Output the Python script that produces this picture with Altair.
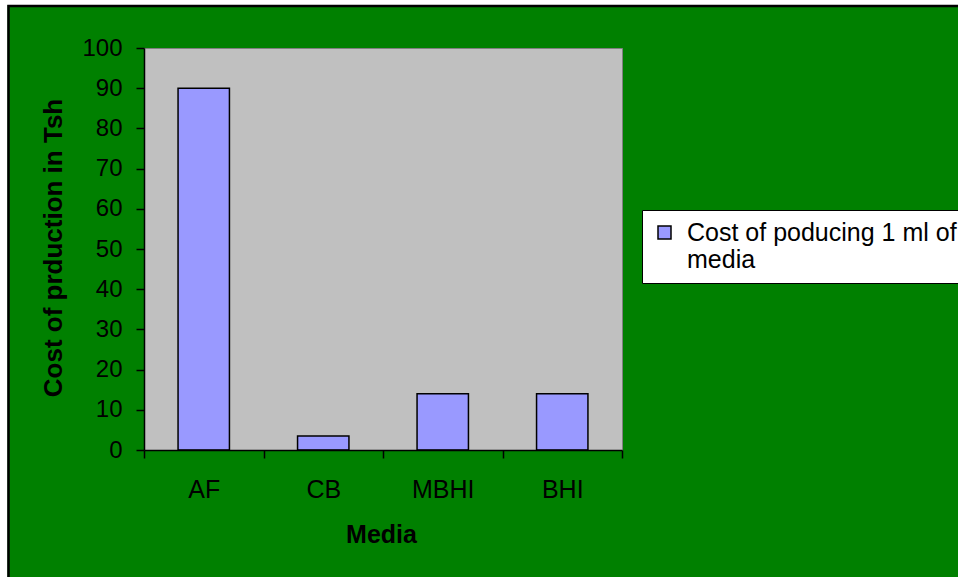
import altair as alt
import pandas as pd

categories = ["AF", "CB", "MBHI", "BHI"]
costs = [90, 3.5, 14, 14]
series_name = "Cost of poducing 1 ml of media"

df = pd.DataFrame({"Media": categories, "Cost": costs, "series": [series_name] * len(categories)})

FONT = "Liberation Sans"
W, H = 478, 402

one = alt.Data(values=[{"k": 1}])

# white margins outside the chart border (left and top), and the black border
white_left = alt.Chart(one).mark_rect(fill="white").encode(
    x=alt.value(-150), x2=alt.value(-136.5), y=alt.value(-60), y2=alt.value(1200)
)
white_top = alt.Chart(one).mark_rect(fill="white").encode(
    x=alt.value(-150), x2=alt.value(1200), y=alt.value(-60), y2=alt.value(-43)
)
border = alt.Chart(one).mark_rect(fill="transparent", stroke="black", strokeWidth=2.5).encode(
    x=alt.value(-135.5), x2=alt.value(1200), y=alt.value(-42), y2=alt.value(1200)
)

bars = alt.Chart(df).mark_bar(
    stroke="black", strokeWidth=1.5, width=alt.RelativeBandSize(0.43)
).encode(
    x=alt.X("Media:N", sort=categories,
            scale=alt.Scale(paddingInner=0, paddingOuter=0),
            axis=alt.Axis(title="Media", labelAngle=0, tickBand="extent",
                          labelBaseline="alphabetic", labelPadding=39,
                          labelFontSize=25, zindex=1,
                          titleX=237, titleY=92, titleBaseline="alphabetic",
                          titleAlign="center")),
    y=alt.Y("Cost:Q", scale=alt.Scale(domain=[0, 100]),
            axis=alt.Axis(title="Cost of prduction in Tsh", values=list(range(0, 101, 10)),
                          labelPadding=14, labelBaseline="middle", zindex=1,
                          labelFontSize=24, titleFontSize=26,
                          titleX=-83, titleY=199.5, titleAngle=270,
                          titleBaseline="alphabetic", titleAlign="center")),
    color=alt.Color("series:N", scale=alt.Scale(range=["#9999FF"]),
                    legend=alt.Legend(title=None, orient="none", legendX=498, legendY=162,
                                      padding=10, fillColor="white", strokeColor="black",
                                      symbolType="square", symbolSize=169,
                                      symbolStrokeColor="black", symbolStrokeWidth=1.5,
                                      labelFont=FONT, labelFontSize=25, labelColor="black",
                                      labelLimit=500, labelOffset=10,
                                      labelExpr="['Cost of poducing 1 ml of', 'media']")),
)

chart = alt.layer(white_left, white_top, border, bars).properties(
    width=W, height=H,
    autosize=alt.AutoSizeParams(type="none"),
    padding={"left": 144, "top": 48, "right": 336, "bottom": 127},
    background="#008000",
).configure_view(
    fill="#C0C0C0", stroke="#808080", strokeWidth=1
).configure_axis(
    labelFont=FONT, labelFontSize=23, labelColor="black",
    titleFont=FONT, titleFontSize=25, titleFontWeight="bold", titleColor="black",
    domainColor="black", domainWidth=1.5, tickColor="black", tickWidth=1.5, tickSize=8,
    grid=False,
)

chart.save("out.html", embed_options={"renderer": "svg", "actions": False})
